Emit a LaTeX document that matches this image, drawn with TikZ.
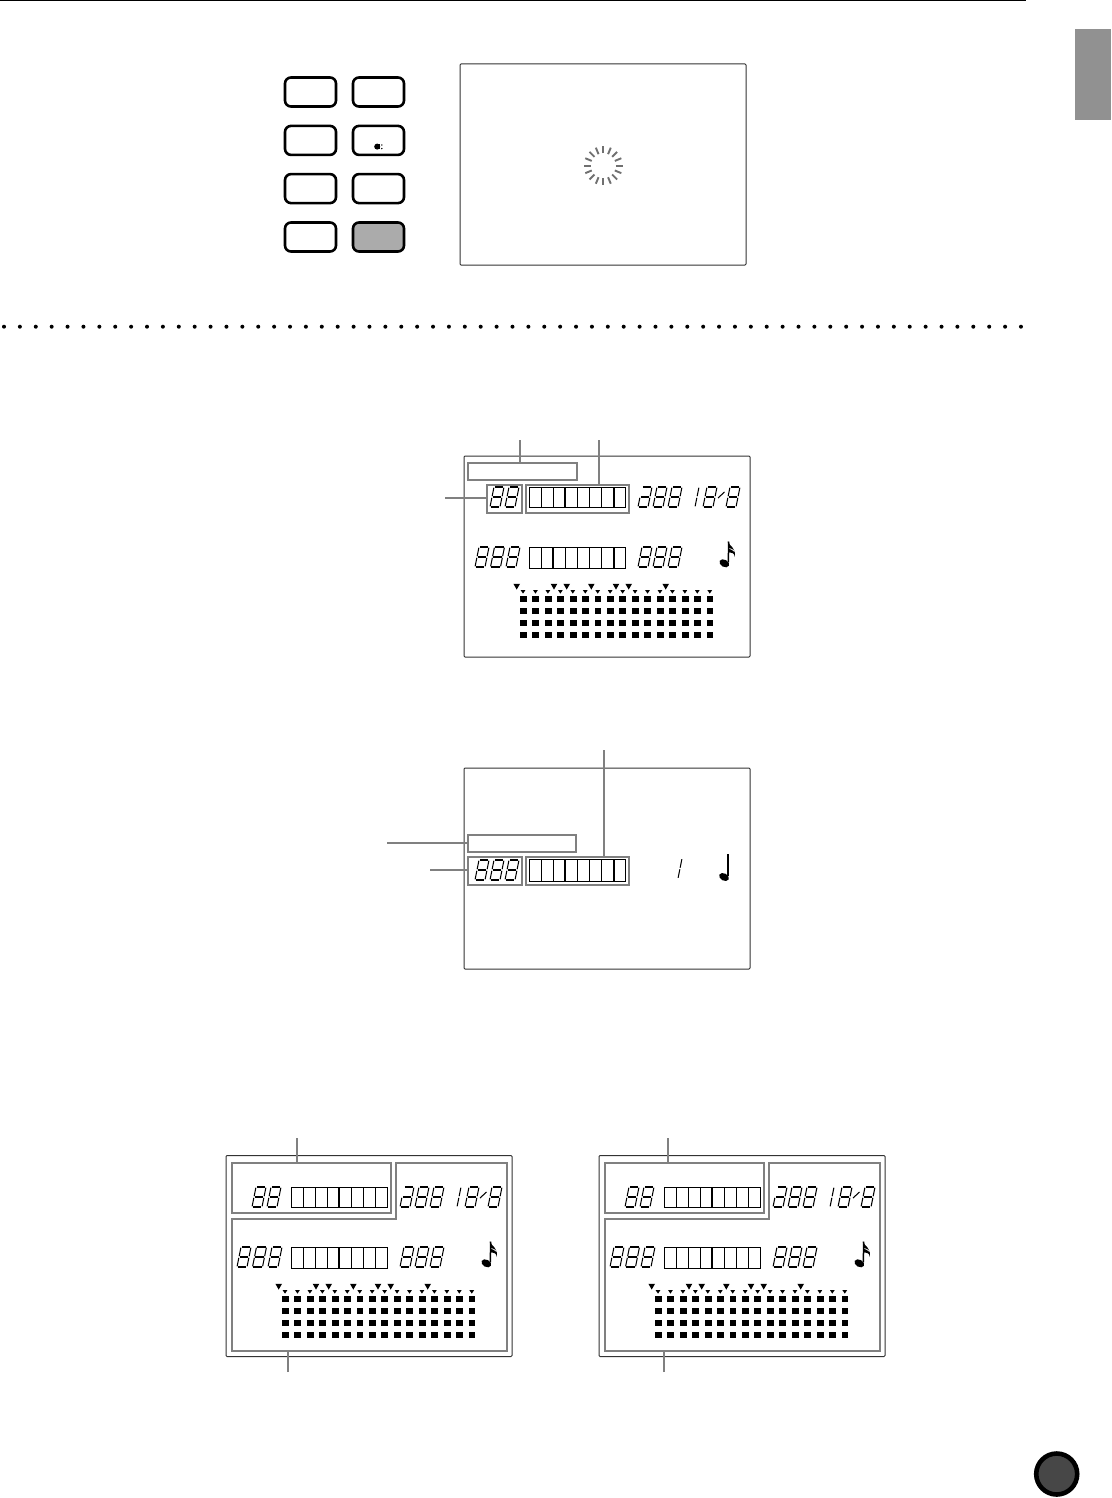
\documentclass[tikz,border=0pt]{standalone}
\definecolor{leadgrey}{HTML}{808080}
\definecolor{tabgrey}{HTML}{919191}
\definecolor{btngrey}{HTML}{ABABAB}
\definecolor{burstgrey}{HTML}{707070}
\definecolor{discgrey}{HTML}{474747}
\tikzset{
  frame/.style={draw=black!80,line width=1pt,rounded corners=1pt,minimum width=286pt,minimum height=201pt,inner sep=0pt,outer sep=0pt},
  keybtn/.style={draw=black,line width=2.6pt,rounded corners=6pt,minimum width=51pt,minimum height=29pt,inner sep=0pt,outer sep=0pt},
  greybox/.style={draw=leadgrey,line width=1.8pt,inner sep=0pt,outer sep=0pt},
  leader/.style={draw=leadgrey,line width=1.7pt},
  seg/.style={line width=1.05pt},
  cell/.style={line width=0.95pt}
}
% seven segments; coordinates (u,-v) with v upward, in the slanted scope
\newcommand\sga{\draw[seg] (0.8,-20) -- (9.2,-20);}
\newcommand\sgb{\draw[seg] (10,-19.3) -- (10,-10.8);}
\newcommand\sgc{\draw[seg] (10,-9.2) -- (10,-0.7);}
\newcommand\sgd{\draw[seg] (0.8,0) -- (9.2,0);}
\newcommand\sge{\draw[seg] (0,-9.2) -- (0,-0.7);}
\newcommand\sgf{\draw[seg] (0,-19.3) -- (0,-10.8);}
\newcommand\sgg{\draw[seg] (0.8,-10) -- (9.2,-10);}
\newcommand\digE[2]{\begin{scope}[shift={(#1,#2)},xslant=0.2]\sga\sgb\sgc\sgd\sge\sgf\sgg\end{scope}}
\newcommand\digT[2]{\begin{scope}[shift={(#1,#2)},xslant=0.2]\sga\sgb\sgc\sgd\sge\sgg\end{scope}}
\newcommand\digO[2]{\begin{scope}[shift={(#1,#2)},xslant=0.2]\sgb\sgc\end{scope}}
% eight cells: x, top, bottom, list of heavier dividers
\newcommand\cells[4]{%
  \draw[cell] (#1,#2) rectangle ++(96.7,#3-#2);
  \foreach \i in {1,...,7}{\draw[cell] ({#1+12.09*\i},#2) -- ({#1+12.09*\i},#3);}
  \foreach \i in {#4}{\draw[line width=1.8pt] ({#1+12.09*\i},#2) -- ({#1+12.09*\i},#3);}
}
\newcommand\flagnote[2]{%
  \begin{scope}[shift={(#1,#2)}]
    \fill[rotate=-28] (0,0) ellipse (5.2pt and 3.6pt);
    \draw[line width=1.5pt] (4.1,-1) -- (4.3,-21.8);
    \fill (3.6,-22) .. controls (5,-17) and (12.8,-15) .. (10,-6.3)
       .. controls (10.5,-10.5) and (7.5,-10.5) .. (4.2,-11) -- cycle;
    \draw[white,line width=0.7pt] (5.2,-14.8) .. controls (7,-14.2) and (8.7,-13.5) .. (10.2,-11.8);
  \end{scope}}
% complete read-out, drawn in the coordinates of the first display
\newcommand\readout[3]{%
  \digE{490}{507}\digE{505}{507}
  \cells{529}{487}{507}{#1}
  \digT{638}{507}\digE{653}{507}\digE{668}{507}
  \digO{685}{507}\digE{703}{507}
  \draw[seg] (718,498) -- (724.5,492);
  \digE{726}{507}
  \digE{475}{567}\digE{490.5}{567}\digE{506}{567}
  \cells{529}{547.5}{568}{#2}
  \digE{638}{567}\digE{653}{567}\digE{668}{567}
  \flagnote{724.3}{563.3}
  \foreach \c in {0,...,15}{
    \fill ({523+12.45*\c-2.3},590.2) -- ++(4.6,0) -- ++(-2.3,3.4) -- cycle;
    \foreach \r in {0,...,3}{
      \fill ({519.8+12.45*\c},{595.8+11.9*\r}) rectangle ++(6.9,6);
    }
  }
  \foreach \t in {516.7,554,566.7,591.3,616,628.7,665.7}{
    \fill ({\t-3.3},583.8) -- ++(6.6,0) -- ++(-3.3,5.8) -- cycle;
  }
}
\begin{document}
\begin{tikzpicture}[x=1pt,y=-1pt]
\useasboundingbox (0,0) rectangle (1111,1498);
\fill[white] (0,0) rectangle (1111,1498);
% page furniture
\fill[black] (0,0) rectangle (1026,1.4);
\fill[tabgrey] (1075,29) rectangle (1111,119.7);
\foreach \n in {0,...,64}{\fill ({4+15.89*\n},326.7) circle (2pt);}
\draw[black,line width=4.6pt,fill=discgrey] (1056.7,1474) circle (20.5pt);
% key block
\node[keybtn] (k1) at (310.5,92) {};
\node[keybtn] (k2) at (378.5,92) {};
\node[keybtn] (k3) at (310.5,140.4) {};
\node[keybtn] (k4) at (378.5,140.4) {};
\node[keybtn] (k5) at (310.5,188.6) {};
\node[keybtn] (k6) at (378.5,188.6) {};
\node[keybtn] (k7) at (310.5,237) {};
\node[keybtn,fill=btngrey] (k8) at (378.5,237) {};
\fill (377.2,146.6) circle (3pt);
\fill (380.4,143.9) rectangle (379,149.3);
\fill (381.8,145) circle (0.8pt);
\fill (381.8,148.6) circle (0.8pt);
% top display with burst
\node[frame] (d0) at (603,164.5) {};
\foreach \a in {0,22.5,...,337.5}{
  \draw[burstgrey,line width=1.9pt] (603.3,165.7) ++(\a:12.5pt) -- ++(\a:7pt);
}
% first display
\node[frame] (d1) at (607,556.5) {};
\readout{3,7}{2,7}{}
\node[greybox,minimum width=108.7pt,minimum height=17.3pt] (b1a) at (522.3,471.3) {};
\node[greybox,minimum width=35.6pt,minimum height=28pt] (b1b) at (504.5,499) {};
\node[greybox,minimum width=103.3pt,minimum height=28pt] (b1c) at (577.4,499) {};
\coordinate (l1a) at (520.3,440);
\coordinate (l1c) at (598.7,440);
\coordinate (l1b) at (445,498.3);
\draw[leader] (l1a) -- (l1a |- b1a.north);
\draw[leader] (l1c) -- (l1c |- b1c.north);
\draw[leader] (l1b) -- (l1b -| b1b.west);
% second display
\node[frame] (d2) at (607,868.5) {};
\digE{475}{880}\digE{490}{880}\digE{505}{880}
\cells{529}{859}{881}{3,7}
\digO{668}{878.5}
\fill[rotate around={-28:(724,877)}] (724,877) ellipse (5.2pt and 3.6pt);
\draw[line width=1.5pt] (728.2,876) -- (728.2,854);
\node[greybox,minimum width=108.6pt,minimum height=17pt] (b2a) at (522,843.5) {};
\node[greybox,minimum width=54.6pt,minimum height=28pt] (b2b) at (495,871) {};
\node[greybox,minimum width=103.3pt,minimum height=28pt] (b2c) at (577.6,871) {};
\coordinate (l2c) at (603.7,750);
\coordinate (l2a) at (387,842.7);
\coordinate (l2b) at (430,870);
\draw[leader] (l2c) -- (l2c |- b2c.north);
\draw[leader] (l2a) -- (l2a -| b2a.west);
\draw[leader] (l2b) -- (l2b -| b2b.west);
% third display
\node[frame] (d3) at (369,1256) {};
\begin{scope}[shift={(-238,700)}]\readout{4}{4}{}\end{scope}
\node[greybox,minimum width=159.3pt,minimum height=50.3pt] (b3a) at (311.65,1187.85) {};
\draw[leader] (232,1219) coordinate (b3p) -- (395.7,1219) -- (395.7,1162.7) -- (507.3,1162.7) -- (507.3,1351) coordinate (b3q) -- (232,1351) -- cycle;
\coordinate (l3a) at (297.3,1138);
\coordinate (l3b) at (287.7,1372);
\draw[leader] (l3a) -- (l3a |- b3a.north);
\draw[leader] (l3b) -- (l3b |- b3q);
% fourth display
\node[frame] (d4) at (742,1256) {};
\begin{scope}[shift={(135,700)}]\readout{4}{4}{}\end{scope}
\node[greybox,minimum width=159.3pt,minimum height=50.3pt] (b4a) at (684.65,1187.85) {};
\draw[leader] (605,1219) coordinate (b4p) -- (768.7,1219) -- (768.7,1162.7) -- (880.3,1162.7) -- (880.3,1351) coordinate (b4q) -- (605,1351) -- cycle;
\coordinate (l4a) at (668,1138);
\coordinate (l4b) at (664,1372);
\draw[leader] (l4a) -- (l4a |- b4a.north);
\draw[leader] (l4b) -- (l4b |- b4q);
\end{tikzpicture}
\end{document}
